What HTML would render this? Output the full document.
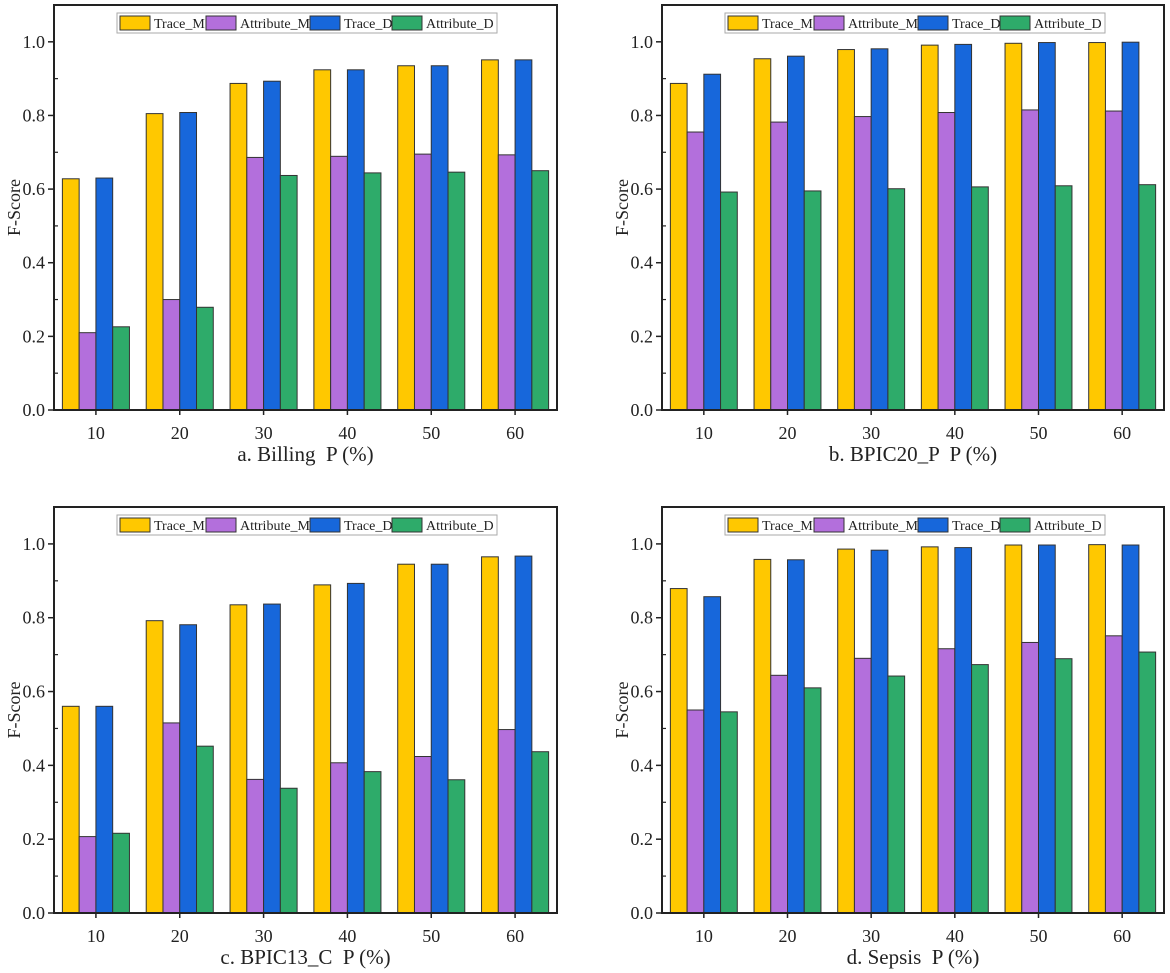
<!DOCTYPE html>
<html><head><meta charset="utf-8"><style>
body{margin:0;background:#fff;}
svg{display:block;font-family:"Liberation Serif",serif;}
text{white-space:pre;}
</style></head><body>
<svg id="chart" width="1170" height="973"></svg>
<script>
const categories=["10","20","30","40","50","60"];
const seriesNames=["Trace_M","Attribute_M","Trace_D","Attribute_D"];
const yTicks=[0.0,0.2,0.4,0.6,0.8,1.0];
const yTickLabels=["0.0","0.2","0.4","0.6","0.8","1.0"];
const titles=["a. Billing  P (%)","b. BPIC20_P  P (%)","c. BPIC13_C  P (%)","d. Sepsis  P (%)"];
const aTraceM=[0.628,0.805,0.887,0.924,0.935,0.951];
const aAttrM=[0.21,0.30,0.686,0.689,0.695,0.693];
const aTraceD=[0.63,0.808,0.893,0.924,0.935,0.951];
const aAttrD=[0.226,0.279,0.637,0.644,0.646,0.65];
const bTraceM=[0.887,0.954,0.979,0.991,0.996,0.998];
const bAttrM=[0.755,0.782,0.797,0.808,0.815,0.812];
const bTraceD=[0.912,0.961,0.981,0.993,0.998,0.999];
const bAttrD=[0.592,0.595,0.601,0.606,0.609,0.612];
const cTraceM=[0.56,0.792,0.835,0.889,0.945,0.965];
const cAttrM=[0.207,0.515,0.362,0.407,0.424,0.497];
const cTraceD=[0.56,0.781,0.837,0.893,0.945,0.967];
const cAttrD=[0.216,0.452,0.338,0.383,0.361,0.437];
const dTraceM=[0.879,0.958,0.986,0.992,0.997,0.998];
const dAttrM=[0.55,0.644,0.69,0.716,0.733,0.751];
const dTraceD=[0.857,0.957,0.983,0.99,0.997,0.997];
const dAttrD=[0.545,0.61,0.642,0.673,0.689,0.707];

const panelData=[[aTraceM,aAttrM,aTraceD,aAttrD],[bTraceM,bAttrM,bTraceD,bAttrD],[cTraceM,cAttrM,cTraceD,cAttrD],[dTraceM,dAttrM,dTraceD,dAttrD]];
const colors=["#FFC800","#B36FDC","#1767DB","#2EAB6A"];
const boxes=[{l:54,r:557,t:5,b:410},{l:662,r:1164,t:5,b:410},{l:54,r:557,t:507,b:913},{l:662,r:1164,t:507,b:913}];
const NS="http://www.w3.org/2000/svg";
const svg=document.getElementById('chart');
function mk(tag,attrs,parent,text){const e=document.createElementNS(NS,tag);for(const k in attrs)e.setAttribute(k,attrs[k]);if(text!==undefined)e.textContent=text;parent.appendChild(e);return e;}
const YMAX=1.1;
boxes.forEach((bx,p)=>{
  const g=mk('g',{},svg);
  
  
  const y=v=>bx.b-(v/YMAX)*(bx.b-bx.t);
  const w=(bx.r-bx.l)/categories.length;
  const x=i=>bx.l+(i+0.5)*w;
  const bw=w*0.2;
  panelData[p].forEach((ser,s)=>{
    ser.forEach((v,i)=>{
      const r=mk('rect',{x:x(i)+(s-2)*bw,y:y(v),width:bw,height:bx.b-y(v),fill:colors[s],stroke:'#333','stroke-width':1},g);
      
      
    });
  });
  const frame=mk('rect',{x:bx.l,y:bx.t,width:bx.r-bx.l,height:bx.b-bx.t,fill:'none',stroke:'#222','stroke-width':2},g);
  
  
  yTicks.forEach((v,k)=>{
    mk('line',{x1:bx.l-6,x2:bx.l,y1:y(v),y2:y(v),stroke:'#222','stroke-width':1.5},g);
    mk('line',{x1:bx.l,x2:bx.l+4,y1:y(v+0.1),y2:y(v+0.1),stroke:'#222','stroke-width':1.2},g);
    const t=mk('text',{x:bx.l-9,y:y(v)+6,'text-anchor':'end','font-size':18,fill:'#222'},g,yTickLabels[k]);
    
    
  });
  categories.forEach((c,i)=>{
    mk('line',{x1:x(i),x2:x(i),y1:bx.b,y2:bx.b+5,stroke:'#222','stroke-width':1.5},g);
    const t=mk('text',{x:x(i),y:bx.b+29,'text-anchor':'middle','font-size':18,fill:'#222'},g,c);
    
    
  });
  const yt=mk('text',{x:0,y:0,transform:`translate(${bx.l-34},${(bx.t+bx.b)/2}) rotate(-90)`,'text-anchor':'middle','font-size':18,fill:'#222'},g,'F-Score');
  
  
  const xt=mk('text',{x:(bx.l+bx.r)/2,y:bx.b+51,'text-anchor':'middle','font-size':21,fill:'#222'},g,titles[p]);
  
  
  const lg=mk('g',{},g);
  
  
  const lx=bx.l+63, ly=bx.t+8;
  mk('rect',{x:lx,y:ly,width:380,height:20,fill:'#fff',stroke:'#aaa','stroke-width':1},lg);
  const offs=[3,89,193,275];
  seriesNames.forEach((n,s)=>{
    const sw=mk('rect',{x:lx+offs[s],y:ly+3,width:30,height:14,fill:colors[s],stroke:'#333','stroke-width':1},lg);
    
    
    const t=mk('text',{x:lx+offs[s]+34,y:ly+15,'font-size':14,fill:'#222'},lg,n);
    
    
  });
});
</script>
</body></html>
